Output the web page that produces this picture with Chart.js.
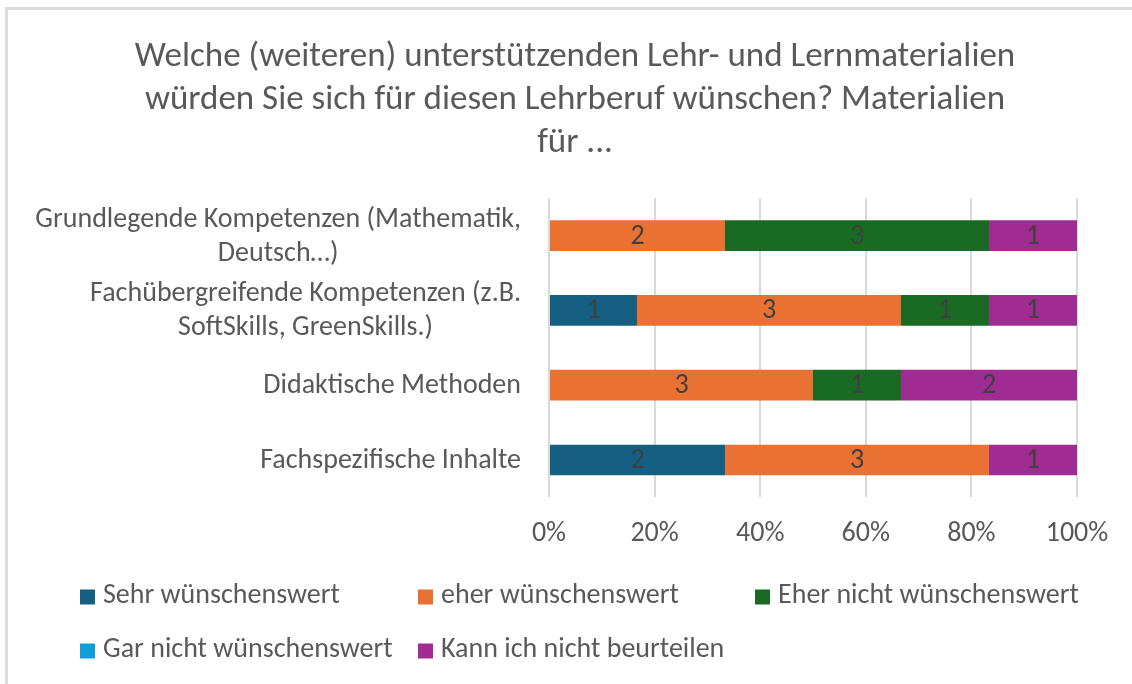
<!DOCTYPE html>
<html>
<head>
  <meta charset="UTF-8">
  <title>Lehr- und Lernmaterialien</title>
  <script src="https://cdn.jsdelivr.net/npm/chart.js@4.4.1/dist/chart.umd.min.js"></script>
  <style>
    html, body {
      margin: 0;
      padding: 0;
      background: #fff;
      overflow: hidden;
    }
    #wrap {
      position: relative;
      width: 1132px;
      height: 684px;
    }
    #frame {
      position: absolute;
      left: 5px;
      top: 7px;
      right: 0;
      bottom: 0;
      border-left: 3px solid #dcdcdc;
      border-top: 3px solid #dcdcdc;
      pointer-events: none;
    }
  </style>
</head>
<body>
<div id="wrap">
  <canvas id="chart" width="1132" height="684"></canvas>
  <div id="frame"></div>
</div>

<script>
// categories, top to bottom
const categories = [
  ['Grundlegende Kompetenzen (Mathematik,', 'Deutsch…)'],
  ['Fachübergreifende Kompetenzen (z.B.', 'SoftSkills, GreenSkills.)'],
  'Didaktische Methoden',
  'Fachspezifische Inhalte'
];

const seriesNames = [
  'Sehr wünschenswert',
  'eher wünschenswert',
  'Eher nicht wünschenswert',
  'Gar nicht wünschenswert',
  'Kann ich nicht beurteilen'
];
const seriesColors = ['#156082', '#E97132', '#196B24', '#0F9ED5', '#A02B93'];

// answer counts per category
const sehr      = [0, 1, 0, 2];
const eher      = [2, 3, 3, 3];
const eherNicht = [3, 1, 1, 0];
const garNicht  = [0, 0, 0, 0];
const kannNicht = [1, 1, 2, 1];

const xTicks = [0, 20, 40, 60, 80, 100];

const counts = [sehr, eher, eherNicht, garNicht, kannNicht];
const totals = categories.map((_, i) => counts.reduce((s, arr) => s + arr[i], 0));

const FONT = 'Carlito, Calibri, "Open Sans", sans-serif';
const GREY = '#595959';

// value labels in the middle of each segment
const barLabels = {
  id: 'barLabels',
  afterDatasetsDraw(chart) {
    const ctx = chart.ctx;
    ctx.save();
    ctx.font = '28px ' + FONT;
    ctx.fillStyle = '#404040';
    ctx.textAlign = 'center';
    ctx.textBaseline = 'middle';
    chart.data.datasets.forEach((ds, di) => {
      const meta = chart.getDatasetMeta(di);
      meta.data.forEach((bar, i) => {
        const v = ds.counts[i];
        if (!v) return;
        ctx.fillText(String(v), (bar.x + bar.base) / 2, bar.y + 1);
      });
    });
    ctx.restore();
  }
};

// category labels: block right aligned, lines centred within the block
const catLabels = {
  id: 'catLabels',
  afterDraw(chart) {
    const ctx = chart.ctx;
    const yScale = chart.scales.y;
    const right = chart.chartArea.left - 28;
    const lh = 34;
    ctx.save();
    ctx.font = '28px ' + FONT;
    ctx.fillStyle = GREY;
    ctx.textAlign = 'center';
    ctx.textBaseline = 'middle';
    chart.data.labels.forEach((lab, i) => {
      const lines = Array.isArray(lab) ? lab : [lab];
      const w = Math.max(...lines.map(l => ctx.measureText(l).width));
      const cx = right - w / 2;
      const cy = yScale.getPixelForValue(i);
      lines.forEach((l, k) => {
        ctx.fillText(l, cx, cy + (k - (lines.length - 1) / 2) * lh + 1);
      });
    });
    ctx.restore();
  }
};

// legend laid out as a grid of three columns
const gridLegend = {
  id: 'gridLegend',
  afterDraw(chart) {
    const ctx = chart.ctx;
    const cols = [80, 418, 755];
    const rows = [597, 651];
    ctx.save();
    ctx.font = '28px ' + FONT;
    ctx.textAlign = 'left';
    ctx.textBaseline = 'middle';
    chart.data.datasets.forEach((ds, i) => {
      const x = cols[i % 3];
      const y = rows[Math.floor(i / 3)];
      ctx.fillStyle = ds.backgroundColor;
      ctx.fillRect(x, y - 7.5, 15, 15);
      ctx.fillStyle = GREY;
      ctx.fillText(ds.label, x + 23, y - 1);
    });
    ctx.restore();
  }
};

new Chart(document.getElementById('chart'), {
  type: 'bar',
  data: {
    labels: categories,
    datasets: counts.map((arr, k) => ({
      label: seriesNames[k],
      counts: arr,
      data: arr.map((v, i) => v / totals[i] * 100),
      backgroundColor: seriesColors[k],
      borderWidth: 0,
      barPercentage: 0.41,
      categoryPercentage: 1
    }))
  },
  options: {
    indexAxis: 'y',
    responsive: false,
    animation: false,
    layout: {
      padding: { left: 73, right: 55, top: 0, bottom: 113 }
    },
    plugins: {
      legend: { display: false },
      tooltip: { enabled: false },
      title: {
        display: true,
        text: [
          'Welche (weiteren) unterstützenden Lehr- und Lernmaterialien',
          'würden Sie sich für diesen Lehrberuf wünschen? Materialien',
          'für ...'
        ],
        color: GREY,
        font: { family: FONT, size: 35, weight: 'normal', lineHeight: 1.23 },
        padding: { top: 36, bottom: 33 }
      }
    },
    scales: {
      x: {
        stacked: true,
        min: 0,
        max: 100,
        afterBuildTicks(scale) {
          scale.ticks = xTicks.map(v => ({ value: v }));
        },
        ticks: {
          color: GREY,
          font: { family: FONT, size: 28 },
          padding: 20,
          callback: v => v + '%'
        },
        grid: { color: '#d9d9d9', lineWidth: 2, drawTicks: false },
        border: { display: false }
      },
      y: {
        stacked: true,
        ticks: { display: false },
        grid: { display: false },
        border: { display: false },
        afterFit(scale) {
          scale.width = 549 - 73;
        }
      }
    }
  },
  plugins: [barLabels, catLabels, gridLegend]
});
</script>
</body>
</html>
